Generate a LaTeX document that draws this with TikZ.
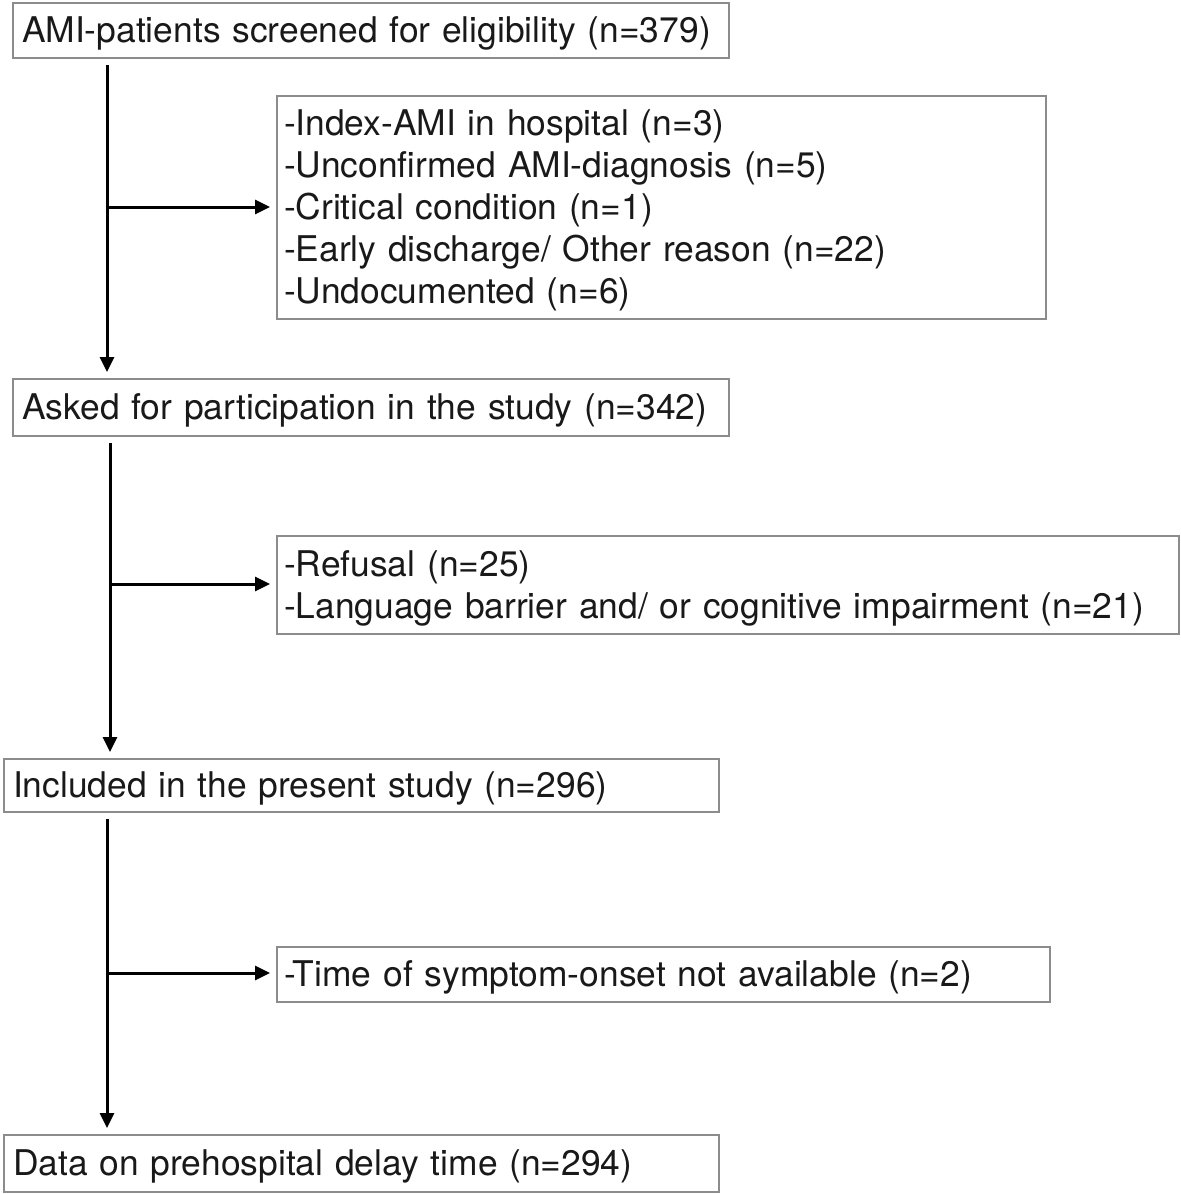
\documentclass[tikz,border=0pt]{standalone}
\usepackage{fontspec}
\setmainfont{TeX Gyre Heros}
\usepackage{tikz}
\usetikzlibrary{arrows.meta}

\tikzset{
  box/.style={draw=black!45, line width=1pt, anchor=north west, inner xsep=4.5pt,
    inner ysep=0pt, align=left, text height=16pt, text=black!90,
    font=\fontsize{17.7}{21}\selectfont},
  arr/.style={line width=1.5pt, -{Triangle[length=7.5pt,width=7pt]},
    shorten <=3pt, shorten >=3pt}
}

\begin{document}
\begin{tikzpicture}[x=0.5pt,y=-0.5pt]
\useasboundingbox (0,0) rectangle (1181,1194);

\node[box,text width=349pt,minimum height=27.5pt] (scr) at (12,2) {AMI-patients screened for eligibility (n=379)};
\node[box,text width=377.5pt,minimum height=111.5pt,inner xsep=3.5pt] (ex1) at (276,95) {-Index-AMI in hospital (n=3)\\-Unconfirmed AMI-diagnosis (n=5)\\-Critical condition (n=1)\\-Early discharge/ Other reason (n=22)\\-Undocumented (n=6)};
\node[box,text width=349pt,minimum height=28.5pt] (ask) at (12,378) {Asked for participation in the study (n=342)};
\node[box,text width=444pt,minimum height=49pt,inner xsep=3.5pt] (ex2) at (276,535) {-Refusal (n=25)\\-Language barrier and/ or cognitive impairment (n=21)};
\node[box,text width=348.5pt,minimum height=26.5pt] (inc) at (3,758) {Included in the present study (n=296)};
\node[box,text width=379.5pt,minimum height=27.5pt,inner xsep=3.5pt] (ex3) at (276,946) {-Time of symptom-onset not available (n=2)};
\node[box,text width=348.5pt,minimum height=28.5pt] (dat) at (3,1134) {Data on prehospital delay time (n=294)};

% junctions
\coordinate (j1) at (107,207);
\coordinate (j2) at (110,584);
\coordinate (j3) at (107,973);

\draw[arr] (j1 |- scr.south) -- (j1 |- ask.north);
\draw[arr, shorten <=0pt] (j1) -- (j1 -| ex1.west);
\draw[arr] (j2 |- ask.south) -- (j2 |- inc.north);
\draw[arr, shorten <=0pt] (j2) -- (j2 -| ex2.west);
\draw[arr] (j3 |- inc.south) -- (j3 |- dat.north);
\draw[arr, shorten <=0pt] (j3) -- (j3 -| ex3.west);
\end{tikzpicture}
\end{document}
